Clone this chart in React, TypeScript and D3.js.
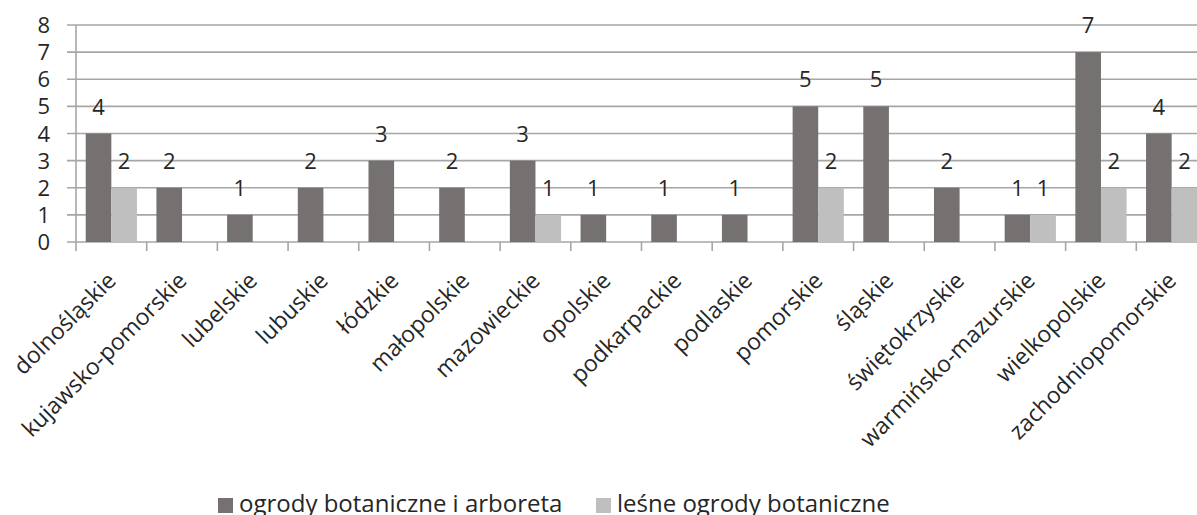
import React, { useEffect, useRef } from "react";
import * as d3 from "d3";

const regions = [
  "dolnośląskie",
  "kujawsko-pomorskie",
  "lubelskie",
  "lubuskie",
  "łódzkie",
  "małopolskie",
  "mazowieckie",
  "opolskie",
  "podkarpackie",
  "podlaskie",
  "pomorskie",
  "śląskie",
  "świętokrzyskie",
  "warmińsko-mazurskie",
  "wielkopolskie",
  "zachodniopomorskie",
];
const botanical = [4, 2, 1, 2, 3, 2, 3, 1, 1, 1, 5, 5, 2, 1, 7, 4];
const forest = [2, 0, 0, 0, 0, 0, 1, 0, 0, 0, 2, 0, 0, 1, 2, 2];
const seriesNames = ["ogrody botaniczne i arboreta", "leśne ogrody botaniczne"];
const yTicks = [0, 1, 2, 3, 4, 5, 6, 7, 8];

const W = 1197;
const H = 515;
const colors = ["#767171", "#bfbfbf"];
const font = "'Open Sans', sans-serif";
const ink = "#262626";

export default function App() {
  const ref = useRef<SVGSVGElement>(null);

  useEffect(() => {
    const svg = d3.select(ref.current);
    svg.selectAll("*").remove();

    const m = { left: 76, top: 25, bottom: 242 };
    // the plot runs past the right edge of the picture, as in the original
    const x = d3.scaleBand<string>().domain(regions).range([m.left, 1207]);
    const inner = d3
      .scaleBand<number>()
      .domain([0, 1])
      .range([0, x.bandwidth()])
      .paddingOuter(0.38)
      .paddingInner(0);
    const y = d3.scaleLinear().domain([0, 8]).range([m.bottom, m.top]);

    // grid
    svg
      .append("g")
      .selectAll("line")
      .data(yTicks)
      .join("line")
      .attr("x1", m.left - 9)
      .attr("x2", W)
      .attr("y1", (d) => y(d))
      .attr("y2", (d) => y(d))
      .attr("stroke", "#a6a6a6")
      .attr("stroke-width", 1.6);

    // y axis line
    svg
      .append("line")
      .attr("x1", m.left)
      .attr("x2", m.left)
      .attr("y1", m.top)
      .attr("y2", m.bottom + 9)
      .attr("stroke", "#a6a6a6")
      .attr("stroke-width", 1.6);

    // x ticks
    svg
      .append("g")
      .selectAll("line")
      .data(regions)
      .join("line")
      .attr("x1", (d) => (x(d) ?? 0) + x.bandwidth())
      .attr("x2", (d) => (x(d) ?? 0) + x.bandwidth())
      .attr("y1", m.bottom)
      .attr("y2", m.bottom + 9)
      .attr("stroke", "#a6a6a6")
      .attr("stroke-width", 1.6);

    // y labels
    svg
      .append("g")
      .selectAll("text")
      .data(yTicks)
      .join("text")
      .attr("x", 50)
      .attr("y", (d) => y(d) + 8)
      .attr("text-anchor", "end")
      .attr("font-family", font)
      .attr("font-size", 22)
      .attr("fill", ink)
      .text((d) => d);

    const series = [botanical, forest];
    series.forEach((vals, si) => {
      const g = svg.append("g");
      const items = regions.map((r, i) => ({ r, v: vals[i] })).filter((d) => d.v > 0);
      g.selectAll("rect")
        .data(items)
        .join("rect")
        .attr("x", (d) => (x(d.r) ?? 0) + (inner(si) ?? 0))
        .attr("width", inner.bandwidth())
        .attr("y", (d) => y(d.v))
        .attr("height", (d) => y(0) - y(d.v))
        .attr("fill", colors[si]);
      g.selectAll("text")
        .data(items)
        .join("text")
        .attr("x", (d) => (x(d.r) ?? 0) + (inner(si) ?? 0) + inner.bandwidth() / 2)
        .attr("y", (d) => y(d.v) - 19)
        .attr("text-anchor", "middle")
        .attr("font-family", font)
        .attr("font-size", 22)
        .attr("fill", ink)
        .text((d) => d.v);
    });

    // category labels
    svg
      .append("g")
      .selectAll("text")
      .data(regions)
      .join("text")
      .attr("transform", (d) => `translate(${(x(d) ?? 0) + x.bandwidth() / 2 + 6},${m.bottom + 40}) rotate(-45)`)
      .attr("text-anchor", "end")
      .attr("font-family", font)
      .attr("font-size", 23)
      .attr("fill", ink)
      .text((d) => d);

    // legend (cut at the bottom edge, as in the original)
    const lg = svg.append("g");
    const lx = [218, 596];
    seriesNames.forEach((n, i) => {
      lg.append("rect").attr("x", lx[i]).attr("y", 498).attr("width", 15).attr("height", 15).attr("fill", colors[i]);
      lg.append("text")
        .attr("x", lx[i] + 21)
        .attr("y", 512)
        .attr("font-family", font)
        .attr("font-size", 24)
        .attr("fill", ink)
        .text(n);
    });
  }, []);

  return (
    <svg
      ref={ref}
      width={W}
      height={H}
      style={{ position: "absolute", left: 0, top: 0, background: "#fff" }}
    />
  );
}
